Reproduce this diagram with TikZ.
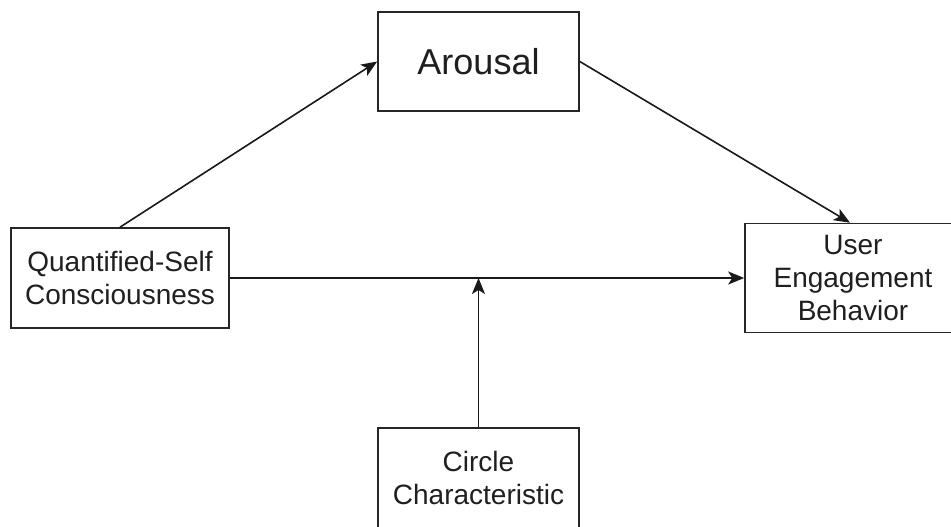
\documentclass[tikz,border=0pt]{standalone}
\usepackage{fontspec}
\setmainfont{Liberation Sans}
\usetikzlibrary{arrows.meta}
\begin{document}
\begin{tikzpicture}[x=1pt,y=-1pt,
  boxnode/.style={draw=black!85, line width=1.6pt, fill=white, align=center, inner sep=0pt, text=black!88,
    font=\fontsize{28}{33}\selectfont},
  conn/.style={draw=black!90, line width=1.6pt, -{Stealth[length=16pt,width=13pt,inset=4pt]}}]
\useasboundingbox (0,0) rectangle (951,527);
\clip (0,0) rectangle (951,527);
\fill[white] (0,0) rectangle (951,527);
\node[boxnode, minimum width=201pt, minimum height=99pt, font=\fontsize{36}{40}\selectfont] (a) at (478.5,61.5) {Arousal};
\node[boxnode, minimum width=218pt, minimum height=100pt] (q) at (120,278) {Quantified-Self\\Consciousness};
\node[boxnode, minimum width=216pt, minimum height=109pt] (u) at (853,278) {User\\Engagement\\Behavior};
\node[boxnode, minimum width=201pt, minimum height=100pt] (c) at (478.5,478) {Circle\\Characteristic};
\coordinate (m) at (c.north |- q.east);
\draw[conn] (q.north) -- (a.west);
\draw[conn] (a.east) -- ([xshift=-3pt]u.north);
\draw[conn] (q.east) -- (u.west);
\draw[conn] (c.north) -- (m);
\end{tikzpicture}
\end{document}
